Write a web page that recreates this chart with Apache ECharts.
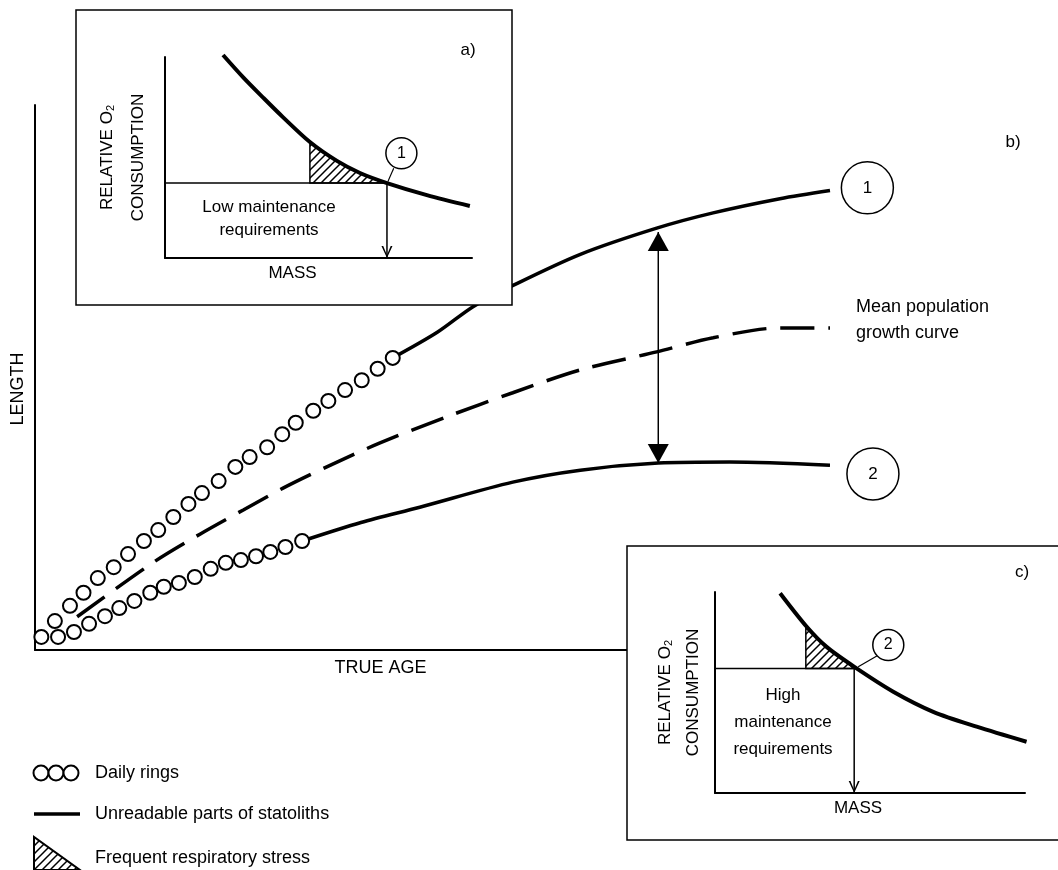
<!DOCTYPE html>
<html>
<head>
<meta charset="utf-8">
<script src="https://cdn.jsdelivr.net/npm/echarts@6/dist/echarts.min.js"></script>
<style>
  html, body { margin: 0; padding: 0; background: #fff; }
  #chart { width: 1058px; height: 870px; }
</style>
</head>
<body>
<div id="chart"></div>
<script>
// b) length against true age (both axes 0-100, arbitrary units)
var ringsUpper = [[0.8,2.4],[2.5,5.3],[4.4,8.1],[6.1,10.5],[7.9,13.2],[9.9,15.2],[11.7,17.6],[13.7,20.0],
  [15.5,22.0],[17.4,24.4],[19.3,26.8],[21.0,28.8],[23.1,31.0],[25.2,33.6],[27.0,35.4],[29.2,37.2],
  [31.1,39.6],[32.8,41.7],[35.0,43.9],[36.9,45.7],[39.0,47.7],[41.1,49.5],[43.1,51.6],[45.0,53.6]];
var ringsLower = [[2.9,2.4],[4.9,3.3],[6.8,4.8],[8.8,6.2],[10.6,7.7],[12.5,9.0],[14.5,10.5],[16.2,11.6],
  [18.1,12.3],[20.1,13.4],[22.1,14.9],[24.0,16.0],[25.9,16.5],[27.8,17.2],[29.6,18.0],[31.5,18.9],[33.6,20.0]];
var unreadableUpper = [[45.0,53.6],[50.6,58.3],[55.1,63.0],[60.0,66.8],[68.6,72.6],[78.2,77.4],[85.3,80.2],[93.7,82.8],[100,84.3]];
var unreadableLower = [[33.6,20.0],[41.0,23.4],[48.4,26.2],[60.1,30.8],[68.6,33.0],[78.4,34.3],[87.4,34.5],[100,33.9]];
var meanCurve = [[5.3,6.1],[14.8,16.0],[20.8,21.3],[26.2,25.7],[31.2,29.7],[36.7,33.6],[43.4,38.0],[51.8,42.8],
  [60.1,47.2],[68.6,51.4],[78.2,54.7],[85.3,57.3],[93.7,59.1],[100,59.1]];
var curveTags = [['1', 104.7, 84.8], ['2', 105.4, 32.3]];
var spread = [[78.4, 76.7], [78.4, 34.3]];

// a) low maintenance: relative O2 consumption against mass
var o2A = [[18.9,101.0],[25.4,90.0],[31.9,79.9],[38.4,70.1],[47.2,57.7],[56.0,48.3],[63.5,42.3],[72.3,37.3],[85.3,31.3],[99.3,25.9]];
var levelA = 37.3, massA = 72.3;
var stressA = [[47.2,37.3],[47.2,57.7],[51.6,52.7],[56.0,48.3],[59.8,45.1],[63.5,42.3],[67.9,39.6],[72.3,37.3]];
var tagA = ['1', 77.0, 52.1];
var leaderA = [[74.5,44.6],[72.6,38.0]];

// c) high maintenance
var o2C = [[21.0,99.4],[29.6,82.7],[36.0,72.7],[45.2,62.5],[57.5,50.4],[70.4,40.4],[84.4,33.0],[100.5,25.5]];
var levelC = 62.0, massC = 44.9;
var stressC = [[29.3,62.0],[29.3,82.1],[32.5,77.6],[36.0,72.7],[40.5,67.2],[44.9,62.0]];
var tagC = ['2', 55.9, 73.6];
var leaderC = [[52.2,68.2],[46.2,62.8]];

var FONT = '"Liberation Sans", Arial, sans-serif';
var DOWN_TRIANGLE = 'path://M0,0 L10,0 L5,10 Z';
var DOWN_CHEVRON = 'path://M0,0 L1.6,0 L5,7.6 L8.4,0 L10,0 L5,10 Z';

function hatchCanvas() {
  var c = document.createElement('canvas');
  c.width = 8; c.height = 8;
  var g = c.getContext('2d');
  g.strokeStyle = '#000';
  g.lineWidth = 1.5;
  g.beginPath();
  g.moveTo(0, 8); g.lineTo(8, 0);
  g.moveTo(-1, 1); g.lineTo(1, -1);
  g.moveTo(7, 9); g.lineTo(9, 7);
  g.stroke();
  return c;
}
var hatch = { image: hatchCanvas(), repeat: 'repeat' };

function axis(extra) {
  return Object.assign({
    type: 'value', min: 0, max: 100,
    axisLine: { onZero: false, lineStyle: { color: '#000', width: 2 } },
    axisTick: { show: false }, axisLabel: { show: false }, splitLine: { show: false },
    nameLocation: 'middle'
  }, extra);
}

function o2Axis(idx, gap, lh) {
  return axis({
    gridIndex: idx, z: 6, name: 'RELATIVE O{sub|2}\nCONSUMPTION', nameGap: gap, nameRotate: 90,
    nameTextStyle: { color: '#000', fontSize: 17, lineHeight: lh, fontFamily: FONT,
      rich: { sub: { fontSize: 11, lineHeight: lh, padding: [7, 0, 0, 0], fontFamily: FONT } } }
  });
}

function massAxis(idx, shift) {
  return axis({
    gridIndex: idx, z: 6, name: 'MASS', nameGap: 7,
    nameTextStyle: { color: '#000', fontSize: 17, fontFamily: FONT, padding: [0, shift, 0, 0] }
  });
}

function plain(data, idx, width, extra) {
  return Object.assign({
    type: 'line', data: data, xAxisIndex: idx, yAxisIndex: idx, smooth: 0.3,
    symbol: 'none', clip: false, silent: true, z: idx ? 6 : 2, lineStyle: { color: '#000', width: width }
  }, extra);
}

function head(point, idx, symbol, size, offset) {
  return {
    type: 'scatter', xAxisIndex: idx, yAxisIndex: idx, clip: false, silent: true, z: idx ? 7 : 3,
    data: [point], symbol: symbol, symbolSize: size, symbolOffset: offset,
    itemStyle: { color: '#000', opacity: 1 }
  };
}

function tag(t, idx, size, fs) {
  return {
    type: 'scatter', xAxisIndex: idx, yAxisIndex: idx, clip: false, silent: true, z: idx ? 7 : 3,
    symbolSize: size, data: [{ name: t[0], value: [t[1], t[2]] }],
    itemStyle: { color: '#fff', borderColor: '#000', borderWidth: 1.5, opacity: 1 },
    label: { show: true, position: 'inside', formatter: '{b}', color: '#000', fontSize: fs, fontFamily: FONT }
  };
}

function stress(pts, idx) {
  return {
    type: 'custom', xAxisIndex: idx, yAxisIndex: idx, z: 6, silent: true,
    data: [pts[0]],
    renderItem: function (params, api) {
      return {
        type: 'polygon',
        shape: { points: pts.map(function (p) { return api.coord(p); }) },
        style: { fill: hatch, stroke: '#000', lineWidth: 1.5 }
      };
    }
  };
}

var chart = echarts.init(document.getElementById('chart'));
chart.setOption({
  animation: false,
  textStyle: { fontFamily: FONT },
  grid: [
    { left: 35, right: 228, top: 105, bottom: 220 },
    { left: 165, right: 586, top: 57, bottom: 612 },
    { left: 715, right: 33, top: 592, bottom: 77 }
  ],
  xAxis: [
    axis({ gridIndex: 0, name: 'TRUE AGE', nameGap: 9,
      nameTextStyle: { color: '#000', fontSize: 18, fontFamily: FONT, padding: [0, 104, 0, 0] } }),
    massAxis(1, 52),
    massAxis(2, 24)
  ],
  yAxis: [
    axis({ gridIndex: 0, name: 'LENGTH', nameGap: 8, nameRotate: 90,
      nameTextStyle: { color: '#000', fontSize: 18, fontFamily: FONT, padding: [0, 23, 0, 0] } }),
    o2Axis(1, 11, 31),
    o2Axis(2, 8, 28)
  ],
  graphic: [
    { type: 'rect', z: 4, shape: { x: 76, y: 10, width: 436, height: 295 },
      style: { fill: '#fff', stroke: '#000', lineWidth: 1.5 } },
    { type: 'rect', z: 4, shape: { x: 627, y: 546, width: 434, height: 294 },
      style: { fill: '#fff', stroke: '#000', lineWidth: 1.5 } },
    { type: 'text', z: 8, x: 468, y: 50, style: { text: 'a)', font: '17px ' + FONT, fill: '#000', textAlign: 'center', textVerticalAlign: 'middle' } },
    { type: 'text', z: 8, x: 1013, y: 142, style: { text: 'b)', font: '17px ' + FONT, fill: '#000', textAlign: 'center', textVerticalAlign: 'middle' } },
    { type: 'text', z: 8, x: 1022, y: 572, style: { text: 'c)', font: '17px ' + FONT, fill: '#000', textAlign: 'center', textVerticalAlign: 'middle' } },
    { type: 'text', z: 8, x: 856, y: 320, style: { text: 'Mean population\ngrowth curve', font: '18px ' + FONT, lineHeight: 26, fill: '#000', textAlign: 'left', textVerticalAlign: 'middle' } },
    { type: 'text', z: 8, x: 269, y: 219, style: { text: 'Low maintenance\nrequirements', font: '17px ' + FONT, lineHeight: 23, fill: '#000', textAlign: 'center', textVerticalAlign: 'middle' } },
    { type: 'text', z: 8, x: 783, y: 722, style: { text: 'High\nmaintenance\nrequirements', font: '17px ' + FONT, lineHeight: 27, fill: '#000', textAlign: 'center', textVerticalAlign: 'middle' } },
    // key
    { type: 'circle', shape: { cx: 41, cy: 773, r: 7.5 }, style: { fill: '#fff', stroke: '#000', lineWidth: 2 } },
    { type: 'circle', shape: { cx: 56, cy: 773, r: 7.5 }, style: { fill: '#fff', stroke: '#000', lineWidth: 2 } },
    { type: 'circle', shape: { cx: 71, cy: 773, r: 7.5 }, style: { fill: '#fff', stroke: '#000', lineWidth: 2 } },
    { type: 'line', shape: { x1: 34, y1: 814, x2: 80, y2: 814 }, style: { stroke: '#000', lineWidth: 3.5 } },
    { type: 'polygon', shape: { points: [[34, 837], [34, 870], [80, 870]] }, style: { fill: hatch, stroke: '#000', lineWidth: 2 } },
    { type: 'text', x: 95, y: 773, style: { text: 'Daily rings', font: '18px ' + FONT, fill: '#000', textVerticalAlign: 'middle' } },
    { type: 'text', x: 95, y: 814, style: { text: 'Unreadable parts of statoliths', font: '18px ' + FONT, fill: '#000', textVerticalAlign: 'middle' } },
    { type: 'text', x: 95, y: 858, style: { text: 'Frequent respiratory stress', font: '18px ' + FONT, fill: '#000', textVerticalAlign: 'middle' } }
  ],
  series: [
    plain(unreadableUpper, 0, 3.5),
    plain(unreadableLower, 0, 3.5),
    plain(meanCurve, 0, 3.5, { lineStyle: { color: '#000', width: 3.5, type: [34, 14] } }),
    { type: 'scatter', data: ringsUpper.concat(ringsLower), symbolSize: 14, z: 3, silent: true,
      itemStyle: { color: '#fff', borderColor: '#000', borderWidth: 2, opacity: 1 } },
    tag(['1', curveTags[0][1], curveTags[0][2]], 0, 52, 17),
    tag(['2', curveTags[1][1], curveTags[1][2]], 0, 52, 17),
    plain(spread, 0, 1.5, { smooth: false, z: 3 }),
    head(spread[0], 0, 'triangle', [21, 19], [0, 9.5]),
    head(spread[1], 0, DOWN_TRIANGLE, [21, 19], [0, -9.5]),

    plain(o2A, 1, 4),
    plain([[0, levelA], [massA, levelA]], 1, 1.5, { smooth: false }),
    stress(stressA, 1),
    plain([[massA, levelA], [massA, 0]], 1, 1.5, { smooth: false }),
    head([massA, 0], 1, DOWN_CHEVRON, [11, 12], [0, -6]),
    plain(leaderA, 1, 1.2, { smooth: false }),
    tag(tagA, 1, 31, 16),

    plain(o2C, 2, 4),
    plain([[0, levelC], [massC, levelC]], 2, 1.5, { smooth: false }),
    stress(stressC, 2),
    plain([[massC, levelC], [massC, 0]], 2, 1.5, { smooth: false }),
    head([massC, 0], 2, DOWN_CHEVRON, [11, 12], [0, -6]),
    plain(leaderC, 2, 1.2, { smooth: false }),
    tag(tagC, 2, 31, 16)
  ]
});
</script>
</body>
</html>
